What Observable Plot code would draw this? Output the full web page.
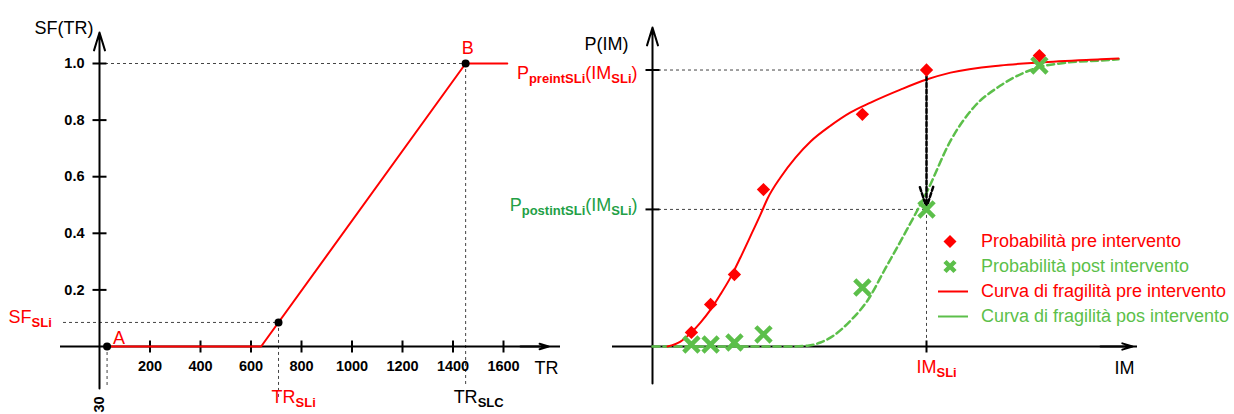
<!DOCTYPE html>
<html><head><meta charset="utf-8">
<script src="https://cdn.jsdelivr.net/npm/d3@7"></script>
<script src="https://cdn.jsdelivr.net/npm/@observablehq/plot@0.6"></script>
<style>
html,body{margin:0;padding:0;background:#fff;}
#wrap{position:relative;width:1234px;height:414px;overflow:hidden;font-family:"Liberation Sans",Arial,sans-serif;}
#wrap > svg{position:absolute;left:0;top:0;}
#legend{position:absolute;left:938px;top:229px;font-size:18px;}
.row{display:flex;align-items:center;height:25px;white-space:nowrap;}
.row svg{width:43px;height:25px;flex:none;}
</style></head><body><div id="wrap"></div>
<script>
// ---------- LEFT PANEL DATA ----------
const trTicks = [200, 400, 600, 800, 1000, 1200, 1400, 1600];
const sfTicks = [0.2, 0.4, 0.6, 0.8, 1.0];
const sfCurveTR = [30, 640, 1450, 1615];
const sfCurveSF = [0, 0, 1, 1];
const keyTR = [30, 709, 1450];
const keySF = [0, 0.085, 1];
const TR_A = 30, TR_SLi = 709, SF_SLi = 0.085, TR_SLC = 1450;

// ---------- RIGHT PANEL DATA ----------
const obsIM   = [0.142, 0.212, 0.299, 0.405, 0.766, 1.0, 1.412];
const obsPre  = [0.049, 0.146, 0.250, 0.545, 0.806, 0.96, 1.01];
const obsPost = [0.007, 0.007, 0.014, 0.042, 0.205, 0.476, 0.976];
const preCurveIM = [0.055, 0.102, 0.142, 0.175, 0.212, 0.248, 0.285, 0.321, 0.358, 0.394, 0.420, 0.467, 0.522, 0.577, 0.650, 0.723, 0.796, 0.905, 1.0, 1.088, 1.270, 1.412, 1.635, 1.701];
const preCurveP  = [0, 0.017, 0.049, 0.083, 0.128, 0.181, 0.240, 0.309, 0.384, 0.458, 0.514, 0.587, 0.656, 0.712, 0.767, 0.813, 0.847, 0.892, 0.927, 0.951, 0.976, 0.986, 0.997, 1.0];
const postCurveIM = [0, 0.504, 0.566, 0.613, 0.661, 0.723, 0.785, 0.850, 0.923, 1.004, 1.088, 1.172, 1.270, 1.409, 1.515, 1.635, 1.701];
const postCurveP  = [0, 0, 0.003, 0.014, 0.038, 0.090, 0.160, 0.271, 0.396, 0.542, 0.715, 0.830, 0.906, 0.969, 0.986, 0.993, 0.997];
const IM_SLi = 1.0, P_pre = 0.96, P_post = 0.476;

const legendLabels = ["Probabilità pre intervento", "Probabilità post intervento", "Curva di fragilità pre intervento", "Curva di fragilità pos intervento"];
const legendKinds = ["diamond", "cross", "line", "line"];

// ---------- STYLE ----------
const FONT = '"Liberation Sans", Arial, sans-serif';
const red = "#ff0000", green = "#5cbf4a", darkGreen = "#22a045";
const dotted = {stroke: "#444", strokeWidth: 1, strokeDasharray: "3,3"};
const axisStyle = {stroke: "#000", strokeWidth: 2};
const head = {headLength: 14, headAngle: 34};
const vtick = {draw(c) { c.moveTo(0, -6); c.lineTo(0, 6); }};
const htick = {draw(c) { c.moveTo(-7, 0); c.lineTo(7, 0); }};
const tickStyle = {fill: "none", stroke: "#000", strokeWidth: 2};
const tickFont = {fontSize: 14.5, fontWeight: "bold", fill: "#000"};

function richify(svg) {
  d3.select(svg).selectAll("text").each(function () {
    const s = this.textContent;
    if (!s.includes("_{")) return;
    const el = d3.select(this);
    el.text(null);
    let shift = 0;
    for (const part of s.split(/(_\{[^}]*\})/)) {
      if (!part) continue;
      const sub = part.startsWith("_{");
      const target = sub ? 4 : 0;
      const t = el.append("tspan").text(sub ? part.slice(2, -1) : part).attr("dy", target - shift);
      if (sub) t.attr("font-size", 13).attr("font-weight", "bold");
      shift = target;
    }
  });
  return svg;
}

const wrap = document.getElementById("wrap");

// ---------- LEFT ----------
const xL = d3.scaleLinear([0, 1600], [99, 503]);
const yL = d3.scaleLinear([0, 1], [346, 63]);
const sfLine = sfCurveTR.map((t, i) => ({t, sf: sfCurveSF[i]}));
const keyPts = keyTR.map((t, i) => ({t, sf: keySF[i]}));

const left = Plot.plot({
  width: 1234, height: 414, margin: 0,
  style: {background: "transparent", fontFamily: FONT, overflow: "visible"},
  x: {domain: xL.domain(), range: xL.range(), axis: null},
  y: {domain: yL.domain(), range: yL.range(), axis: null},
  marks: [
    Plot.ruleY([1], {x1: 0, x2: TR_SLC, ...dotted}),
    Plot.ruleY([SF_SLi], {x1: xL.invert(63), x2: TR_SLi, ...dotted}),
    Plot.ruleX([TR_A], {y1: 0, y2: yL.invert(385), ...dotted}),
    Plot.ruleX([TR_SLi], {y1: SF_SLi, y2: yL.invert(398), ...dotted}),
    Plot.ruleX([TR_SLC], {y1: 1, y2: yL.invert(385), ...dotted}),
    Plot.ruleY([0], {x1: xL.invert(60), x2: xL.invert(560), ...axisStyle}),
    Plot.arrow([0], {x1: xL.invert(520), y1: 0, x2: xL.invert(548), y2: 0, ...axisStyle, ...head}),
    Plot.arrow([0], {x1: 0, y1: yL.invert(388), x2: 0, y2: yL.invert(32), ...axisStyle, ...head}),
    Plot.dot(trTicks, {x: d => d, y: 0, symbol: vtick, ...tickStyle}),
    Plot.dot(sfTicks, {x: 0, y: d => d, symbol: htick, ...tickStyle}),
    Plot.text(trTicks, {x: d => d, y: 0, dy: 20, text: d => String(d), ...tickFont}),
    Plot.text(sfTicks, {x: 0, y: d => d, dx: -15, textAnchor: "end", text: d => d3.format(".1f")(d), ...tickFont}),
    Plot.line(sfLine, {x: "t", y: "sf", stroke: red, strokeWidth: 2}),
    Plot.dot(keyPts, {x: "t", y: "sf", r: 4, fill: "#000"}),
    Plot.text(["SF(TR)"], {x: 0, frameAnchor: "top", dx: -6, dy: 21, textAnchor: "end", fontSize: 18, fill: "#000"}),
    Plot.text(["TR"], {x: xL.invert(548), y: 0, dx: -2, dy: 22, fontSize: 18, fill: "#000"}),
    Plot.text(["A"], {x: TR_A, y: 0, dx: 6, dy: -8, textAnchor: "start", fontSize: 18, fill: red}),
    Plot.text(["B"], {x: TR_SLC, y: 1, dx: 2, dy: -15, fontSize: 18, fill: red}),
    Plot.text(["SF_{SLi}"], {y: SF_SLi, frameAnchor: "left", dx: 8, dy: -5, textAnchor: "start", fontSize: 18, fill: red}),
    Plot.text(["TR_{SLi}"], {x: TR_SLi, frameAnchor: "bottom", dx: -7, dy: -12, textAnchor: "start", fontSize: 18, fill: red}),
    Plot.text(["TR_{SLC}"], {x: TR_SLC, frameAnchor: "bottom", dx: -12, dy: -12, textAnchor: "start", fontSize: 18, fill: "#000"}),
    Plot.text([String(TR_A)], {x: TR_A, frameAnchor: "bottom", dx: -3, dy: -10, rotate: -90, ...tickFont})
  ]
});
wrap.appendChild(richify(left));

// ---------- RIGHT ----------
const xR = d3.scaleLinear([0, 1], [652, 926]);
const yR = d3.scaleLinear([0, 1], [346, 58]);
const obs = obsIM.map((im, i) => ({im, pre: obsPre[i], post: obsPost[i]}));
const preCurve = preCurveIM.map((im, i) => ({im, p: preCurveP[i]}));
const postCurve = postCurveIM.map((im, i) => ({im, p: postCurveP[i]}));

const right = Plot.plot({
  width: 1234, height: 414, margin: 0,
  style: {background: "transparent", fontFamily: FONT, overflow: "visible"},
  x: {domain: xR.domain(), range: xR.range(), axis: null},
  y: {domain: yR.domain(), range: yR.range(), axis: null},
  marks: [
    Plot.ruleY([P_pre, P_post], {x1: 0, x2: IM_SLi, ...dotted}),
    Plot.ruleX([IM_SLi], {y1: P_post, y2: 0, ...dotted}),
    Plot.ruleY([0], {x1: xR.invert(612), x2: xR.invert(1137), ...axisStyle}),
    Plot.arrow([0], {x1: xR.invert(1100), y1: 0, x2: xR.invert(1132), y2: 0, ...axisStyle, ...head}),
    Plot.arrow([0], {x1: 0, y1: yR.invert(383), x2: 0, y2: yR.invert(27), ...axisStyle, ...head}),
    Plot.dot([P_pre, P_post], {x: 0, y: d => d, symbol: htick, ...tickStyle}),
    Plot.dot([IM_SLi], {x: d => d, y: 0, symbol: vtick, ...tickStyle}),
    Plot.line(postCurve, {x: "im", y: "p", stroke: green, strokeWidth: 2.5, strokeDasharray: "7,4", curve: "monotone-x"}),
    Plot.line(preCurve, {x: "im", y: "p", stroke: red, strokeWidth: 2, curve: "monotone-x"}),
    Plot.arrow([0], {x1: IM_SLi, y1: P_pre, x2: IM_SLi, y2: yR.invert(207), stroke: "#000", strokeWidth: 2.5, strokeDasharray: "4,2.5", headLength: 13, headAngle: 36}),
    Plot.dot(obs, {x: "im", y: "post", symbol: "times", r: 7, stroke: green, strokeWidth: 4.5}),
    Plot.dot(obs, {x: "im", y: "pre", symbol: "diamond2", r: 6, fill: red}),
    Plot.text(["P(IM)"], {x: 0, frameAnchor: "top", dx: -24, dy: 37, textAnchor: "end", fontSize: 18, fill: "#000"}),
    Plot.text(["P_{preintSLi}(IM_{SLi})"], {x: 0, y: P_pre, dx: -15, dy: 3, textAnchor: "end", fontSize: 18, fill: red}),
    Plot.text(["P_{postintSLi}(IM_{SLi})"], {x: 0, y: P_post, dx: -15, dy: -4, textAnchor: "end", fontSize: 18, fill: darkGreen}),
    Plot.text(["IM_{SLi}"], {x: IM_SLi, y: 0, dx: -10, dy: 21, textAnchor: "start", fontSize: 18, fill: red}),
    Plot.text(["IM"], {x: xR.invert(1132), y: 0, dx: -8, dy: 22, fontSize: 18, fill: "#000"})
  ]
});
wrap.appendChild(richify(right));

// ---------- LEGEND ----------
const legend = document.createElement("div");
legend.id = "legend";
const legendColors = [red, green, red, green];
legendLabels.forEach((lab, i) => {
  const row = document.createElement("div");
  row.className = "row";
  const c = legendColors[i];
  let sw;
  if (legendKinds[i] === "diamond") sw = `<path d="M12,6L18.5,12.5L12,19L5.5,12.5Z" fill="${c}"/>`;
  else if (legendKinds[i] === "cross") sw = `<path d="M7,7.5L17,17.5M17,7.5L7,17.5" stroke="${c}" stroke-width="4.5"/>`;
  else sw = `<line x1="0" x2="30" y1="12.5" y2="12.5" stroke="${c}" stroke-width="2"/>`;
  row.innerHTML = `<svg viewBox="0 0 43 25">${sw}</svg><span style="color:${c}">${lab}</span>`;
  legend.appendChild(row);
});
wrap.appendChild(legend);
</script></body></html>
